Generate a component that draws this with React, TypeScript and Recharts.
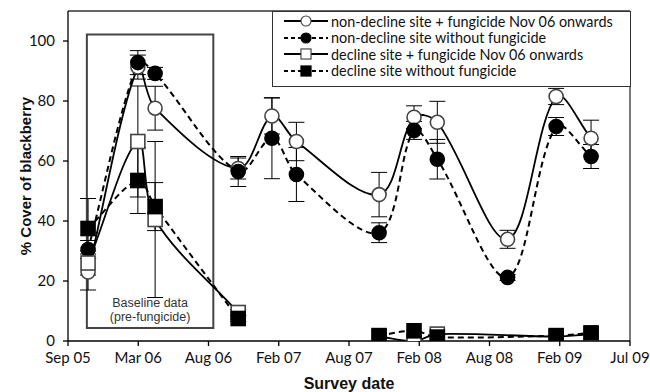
import React from 'react';
import { LineChart, Line, XAxis, YAxis, ErrorBar, ReferenceArea, ReferenceLine } from 'recharts';

// survey dates as days after the first axis tick (Sep 05)
const surveyDays = [50, 174, 217, 424, 508, 569, 775, 862, 920, 1095, 1216, 1303];
const tickDays = [0, 175, 350, 525, 700, 875, 1050, 1225, 1400];
const tickLabels = ['Sep 05', 'Mar 06', 'Aug 06', 'Feb 07', 'Aug 07', 'Feb 08', 'Aug 08', 'Feb 09', 'Jul 09'];
const yTicks = [0, 20, 40, 60, 80, 100];

const nonDeclineFung = [23, 91.3, 77.6, 57.5, 75, 66.5, 48.8, 74.6, 72.9, 33.9, 81.5, 67.6];
const nonDeclineFungErr = [6, 4, 7.3, 3.5, 6, 6.4, 7.4, 3.8, 7, 3, 2.7, 6];
const nonDeclineNone = [30.5, 92.8, 89.2, 56.5, 67.6, 55.5, 36.1, 70.2, 60.6, 21.2, 71.5, 61.5];
const nonDeclineNoneErr = [3, 4, 2, 5, 13.5, 9, 3.3, 3, 6.6, 1, 3, 4];
const declineFung = [26, 66.5, 40.5, 9.5, null, null, 1.5, 0, 2.3, null, 1.5, 2.3];
const declineFungErr = [4, 18.5, 26, 1, null, null, null, null, null, null, null, null];
const declineNone = [37.5, 53.5, 44.8, 7.5, null, null, 1.8, 3.4, 1.3, null, 1.8, 2.7];
const declineNoneErr = [10, 11, 8, 1, null, null, null, null, null, null, null, null];

const baselineCount = 4; // surveys before fungicide started
const baselineBox = { x1: 47, x2: 362, y1: 4.3, y2: 102.2 };

const legendNames = [
  'non-decline site + fungicide Nov 06 onwards',
  'non-decline site without fungicide',
  'decline site + fungicide Nov 06 onwards',
  'decline site without fungicide',
];

const data = surveyDays.map((day, i) => ({
  day,
  ndf: nonDeclineFung[i],
  ndfErr: nonDeclineFungErr[i],
  ndn: nonDeclineNone[i],
  ndnErr: nonDeclineNoneErr[i],
  dfBase: i < baselineCount ? declineFung[i] : null,
  dfLate: i >= baselineCount ? declineFung[i] : null,
  dfErr: declineFungErr[i],
  dnBase: i < baselineCount ? declineNone[i] : null,
  dnLate: i >= baselineCount ? declineNone[i] : null,
  dnErr: declineNoneErr[i],
}));

const dist = (a: number[], b: number[]) => Math.hypot(b[0] - a[0], b[1] - a[1]);

// Excel-style smoothed line: cardinal spline with tangents scaled by segment length
const smoothCurve: any = (context: any) => {
  let pts: number[][] = [];
  return {
    areaStart() {},
    areaEnd() {},
    lineStart() {
      pts = [];
    },
    point(x: number, y: number) {
      pts.push([+x, +y]);
    },
    lineEnd() {
      const n = pts.length;
      if (!n) return;
      context.moveTo(pts[0][0], pts[0][1]);
      for (let i = 0; i < n - 1; i++) {
        const p0 = pts[Math.max(i - 1, 0)];
        const p1 = pts[i];
        const p2 = pts[i + 1];
        const p3 = pts[Math.min(i + 2, n - 1)];
        const d0 = dist(p0, p1);
        const d1 = dist(p1, p2);
        const d2 = dist(p2, p3);
        const f1 = d0 + d1 > 0 ? d1 / (d0 + d1) / 3 : 0;
        const f2 = d1 + d2 > 0 ? d1 / (d1 + d2) / 3 : 0;
        context.bezierCurveTo(
          p1[0] + (p2[0] - p0[0]) * f1,
          p1[1] + (p2[1] - p0[1]) * f1,
          p2[0] - (p3[0] - p1[0]) * f2,
          p2[1] - (p3[1] - p1[1]) * f2,
          p2[0],
          p2[1]
        );
      }
    },
  };
};

const Marker = ({ shape, filled, cx, cy }: { shape: string; filled: boolean; cx: number; cy: number }) => {
  const fill = filled ? '#000' : '#fff';
  const stroke = filled ? '#000' : '#444';
  if (shape === 'circle') {
    return <circle cx={cx} cy={cy} r={7} fill={fill} stroke={stroke} strokeWidth={1.6} />;
  }
  return <rect x={cx - 7} y={cy - 7} width={14} height={14} fill={fill} stroke={stroke} strokeWidth={1.6} />;
};

const makeDot = (shape: string, filled: boolean) => (p: any) => {
  if (p.cx == null || p.cy == null || p.value == null) return <g key={p.key} />;
  return (
    <g key={p.key}>
      <Marker shape={shape} filled={filled} cx={p.cx} cy={p.cy} />
    </g>
  );
};

const legendStyles = [
  { shape: 'circle', filled: false, dash: undefined },
  { shape: 'circle', filled: true, dash: '4 3' },
  { shape: 'square', filled: false, dash: undefined },
  { shape: 'square', filled: true, dash: '4 3' },
];

const BaselineLabel = (props: any) => {
  const { x, y, width, height } = props.viewBox;
  const cx = x + width / 2;
  const style = { fontFamily: '"Liberation Sans", Arial, sans-serif', fontSize: 12.5, fill: '#333' };
  return (
    <g>
      <text x={cx} y={y + height - 21} textAnchor="middle" style={style}>Baseline data</text>
      <text x={cx} y={y + height - 7} textAnchor="middle" style={style}>(pre-fungicide)</text>
    </g>
  );
};

const tickStyle = { fontFamily: 'Lato, "Open Sans", sans-serif', fontSize: 15, fill: '#111' };
const titleStyle = { fontFamily: '"Liberation Sans", Arial, sans-serif', fontWeight: 700, fill: '#111' };

export default function App() {
  return (
    <div style={{ position: 'absolute', left: 0, top: 0, width: 650, height: 392, background: '#fff' }}>
      <LineChart width={650} height={392} data={data} margin={{ top: 11, right: 20, bottom: 0, left: 0 }}>
        <XAxis
          dataKey="day"
          type="number"
          domain={[0, 1400]}
          ticks={tickDays}
          tickFormatter={(v: number) => tickLabels[tickDays.indexOf(v)]}
          height={51}
          tickSize={5}
          tickMargin={6}
          tick={tickStyle}
          stroke="#000"
          strokeWidth={1.3}
          allowDataOverflow
          label={{ value: 'Survey date', position: 'insideBottom', offset: 3, style: { ...titleStyle, fontSize: 16 } }}
        />
        <YAxis
          type="number"
          domain={[0, 110]}
          ticks={yTicks}
          width={68}
          tickSize={5}
          tickMargin={8}
          tick={tickStyle}
          stroke="#000"
          strokeWidth={1.3}
          allowDataOverflow
          label={(p: any) => {
            const vb = p.viewBox;
            const lx = vb.x + 25;
            const ly = vb.y + vb.height / 2;
            return (
              <text
                x={lx}
                y={ly}
                transform={`rotate(-90 ${lx} ${ly})`}
                textAnchor="middle"
                dominantBaseline="central"
                style={{ ...titleStyle, fontSize: 15 }}
              >
                % Cover of blackberry
              </text>
            );
          }}
        />
        <ReferenceLine y={110} stroke="#333" strokeWidth={1.3} />
        <ReferenceLine x={1400} stroke="#333" strokeWidth={1.3} />
        <ReferenceArea
          x1={baselineBox.x1}
          x2={baselineBox.x2}
          y1={baselineBox.y1}
          y2={baselineBox.y2}
          fill="#fff"
          fillOpacity={0}
          stroke="#444"
          strokeWidth={2}
          label={<BaselineLabel />}
        />

        <Line dataKey="ndf" type={smoothCurve} stroke="#000" strokeWidth={1.8} dot={makeDot('circle', false)} activeDot={false} isAnimationActive={false}>
          <ErrorBar dataKey="ndfErr" width={8} stroke="#000" strokeWidth={1} direction="y" />
        </Line>
        <Line dataKey="ndn" type={smoothCurve} stroke="#000" strokeWidth={2} strokeDasharray="6 4" dot={makeDot('circle', true)} activeDot={false} isAnimationActive={false}>
          <ErrorBar dataKey="ndnErr" width={8} stroke="#000" strokeWidth={1} direction="y" />
        </Line>
        <Line dataKey="dfBase" type={smoothCurve} stroke="#000" strokeWidth={1.8} dot={makeDot('square', false)} activeDot={false} isAnimationActive={false}>
          <ErrorBar dataKey="dfErr" width={8} stroke="#000" strokeWidth={1} direction="y" />
        </Line>
        <Line dataKey="dfLate" type={smoothCurve} connectNulls stroke="#000" strokeWidth={1.8} dot={makeDot('square', false)} activeDot={false} isAnimationActive={false} />
        <Line dataKey="dnBase" type={smoothCurve} stroke="#000" strokeWidth={2} strokeDasharray="6 4" dot={makeDot('square', true)} activeDot={false} isAnimationActive={false}>
          <ErrorBar dataKey="dnErr" width={8} stroke="#000" strokeWidth={1} direction="y" />
        </Line>
        <Line dataKey="dnLate" type={smoothCurve} connectNulls stroke="#000" strokeWidth={2} strokeDasharray="6 4" dot={makeDot('square', true)} activeDot={false} isAnimationActive={false} />
      </LineChart>

      {/* legend box */}
      <div
        style={{
          position: 'absolute',
          left: 272,
          top: 11,
          width: 359,
          height: 76,
          boxSizing: 'border-box',
          border: '1.3px solid #333',
          background: '#fff',
          padding: '1px 0 0 10px',
          fontFamily: 'Lato, "Open Sans", sans-serif',
          fontSize: 14.4,
          color: '#111',
        }}
      >
        {legendNames.map((name, i) => {
          const s = legendStyles[i];
          return (
            <div key={name} style={{ display: 'flex', alignItems: 'center', height: 16.5, whiteSpace: 'nowrap' }}>
              <svg width={46} height={16} style={{ flex: 'none', marginRight: 2 }}>
                <line x1={1} y1={8} x2={45} y2={8} stroke="#000" strokeWidth={2} strokeDasharray={s.dash} />
                <g transform="translate(23 8) scale(0.72) translate(-23 -8)">
                  <Marker shape={s.shape} filled={s.filled} cx={23} cy={8} />
                </g>
              </svg>
              <span>{name}</span>
            </div>
          );
        })}
      </div>
    </div>
  );
}
